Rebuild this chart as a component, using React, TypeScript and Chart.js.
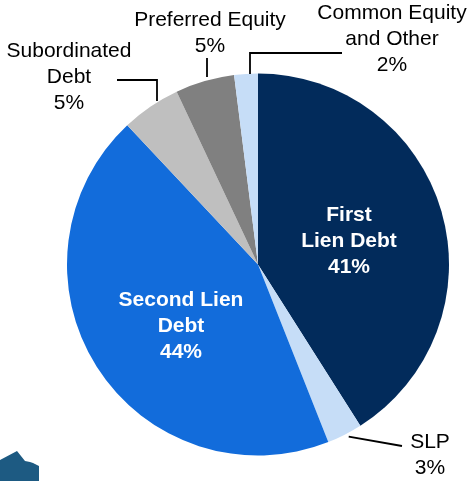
import React, { useEffect, useRef } from "react";
import { Chart, registerables } from "chart.js";

Chart.register(...registerables);

const categories = [
  "First Lien Debt",
  "SLP",
  "Second Lien Debt",
  "Subordinated Debt",
  "Preferred Equity",
  "Common Equity and Other",
];
const values = [41, 3, 44, 5, 5, 2];
const colors = ["#022b5b", "#c6ddf7", "#126cdb", "#bfbfbf", "#808080", "#c6ddf7"];

// label text lines per slice
const labelLines: string[][] = [
  ["First", "Lien Debt", "41%"],
  ["SLP", "3%"],
  ["Second Lien", "Debt", "44%"],
  ["Subordinated", "Debt", "5%"],
  ["Preferred Equity", "5%"],
  ["Common Equity", "and Other", "2%"],
];

const FONT = "'Liberation Sans', Arial, Helvetica, sans-serif";

const labelPlugin = {
  id: "customLabels",
  afterDraw(chart: any) {
    const ctx = chart.ctx as CanvasRenderingContext2D;
    const meta = chart.getDatasetMeta(0);
    const arcs = meta.data as any[];

    const edge = (i: number) => {
      const a = arcs[i];
      const mid = (a.startAngle + a.endAngle) / 2;
      return { x: a.x + Math.cos(mid) * a.outerRadius, y: a.y + Math.sin(mid) * a.outerRadius };
    };

    ctx.save();
    ctx.textAlign = "center";
    ctx.textBaseline = "middle";

    // inside labels
    const inner: Record<number, { x: number; y: number }> = {
      0: { x: 349, y: 241 },
      2: { x: 181, y: 326 },
    };
    ctx.fillStyle = "#ffffff";
    ctx.font = `bold 21px ${FONT}`;
    Object.keys(inner).forEach((k) => {
      const i = Number(k);
      const p = inner[i];
      const lines = labelLines[i];
      lines.forEach((t, j) => {
        ctx.fillText(t, p.x, p.y + (j - (lines.length - 1) / 2) * 26);
      });
    });

    // outside labels
    ctx.fillStyle = "#000000";
    ctx.font = `21px ${FONT}`;
    const outer: Record<number, { x: number; y: number }> = {
      1: { x: 430, y: 442 },
      3: { x: 69, y: 51 },
      4: { x: 210, y: 20 },
      5: { x: 392, y: 13 },
    };
    Object.keys(outer).forEach((k) => {
      const i = Number(k);
      const p = outer[i];
      labelLines[i].forEach((t, j) => {
        ctx.fillText(t, p.x, p.y + j * 26);
      });
    });

    // leader lines
    ctx.strokeStyle = "#000000";
    ctx.lineWidth = 1.8;
    ctx.lineCap = "butt";
    // SLP
    const e = edge(1);
    ctx.beginPath();
    ctx.moveTo(e.x + 4, e.y + 2);
    ctx.lineTo(402, 446);
    ctx.stroke();
    // Subordinated
    ctx.beginPath();
    ctx.moveTo(157, 101);
    ctx.lineTo(157, 80);
    ctx.lineTo(117, 80);
    ctx.stroke();
    // Preferred
    ctx.beginPath();
    ctx.moveTo(207, 77);
    ctx.lineTo(207, 58);
    ctx.stroke();
    // Common
    ctx.beginPath();
    ctx.moveTo(250, 74);
    ctx.lineTo(250, 53);
    ctx.lineTo(342, 53);
    ctx.stroke();

    // corner logo shape
    ctx.fillStyle = "#1d5a82";
    ctx.beginPath();
    ctx.moveTo(0, 460);
    ctx.lineTo(17, 451);
    ctx.lineTo(25, 461);
    ctx.lineTo(30, 462);
    ctx.lineTo(33, 463);
    ctx.lineTo(39, 466);
    ctx.lineTo(39, 481);
    ctx.lineTo(0, 481);
    ctx.closePath();
    ctx.fill();

    ctx.restore();
  },
};

export default function App() {
  const ref = useRef<HTMLCanvasElement | null>(null);

  useEffect(() => {
    document.body.style.margin = "0";
    const canvas = ref.current!;
    const chart = new Chart(canvas, {
      type: "pie",
      data: {
        labels: categories,
        datasets: [
          {
            data: values,
            backgroundColor: colors,
            borderWidth: 0,
          },
        ],
      },
      options: {
        responsive: false,
        animation: false,
        rotation: 0,
        layout: { padding: { left: 67, right: 23, top: 73, bottom: 25 } },
        plugins: {
          legend: { display: false },
          tooltip: { enabled: false },
          title: { display: false },
        },
      },
      plugins: [labelPlugin],
    });
    return () => chart.destroy();
  }, []);

  return (
    <div style={{ position: "absolute", left: 0, top: 0, width: 472, height: 481, background: "#fff" }}>
      <canvas ref={ref} width={472} height={481} style={{ display: "block", width: 472, height: 481 }} />
    </div>
  );
}
